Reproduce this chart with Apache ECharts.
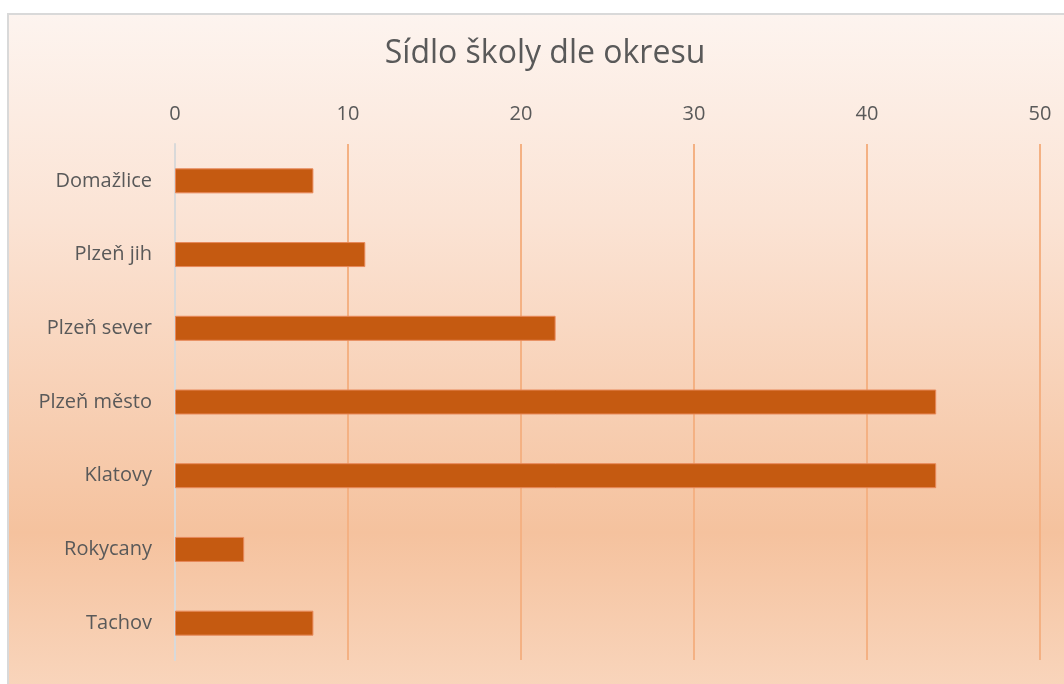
<!DOCTYPE html>
<html>
<head>
<meta charset="utf-8">
<script src="https://cdn.jsdelivr.net/npm/echarts@6/dist/echarts.min.js"></script>
<style>
  html, body { margin: 0; padding: 0; background: #ffffff; }
  #bg {
    position: absolute; left: 7px; top: 13px; width: 1070px; height: 690px;
    border-left: 2px solid #d9d9d9; border-top: 2px solid #d9d9d9;
    background: linear-gradient(to bottom, #fdf4ef 0%, #fbe3d4 30%, #f7cdb0 60%, #f5c29e 75%, #f9d7bf 100%);
  }
  #chart { position: absolute; left: 0; top: 0; width: 1064px; height: 684px; }
</style>
</head>
<body>
<div id="bg"></div>
<div id="chart"></div>
<script>
var nadpis = 'Sídlo školy dle okresu';
var okresy = ['Domažlice', 'Plzeň jih', 'Plzeň sever', 'Plzeň město', 'Klatovy', 'Rokycany', 'Tachov'];
var pocty = [8, 11, 22, 44, 44, 4, 8];

var font = '"Open Sans", sans-serif';
var chart = echarts.init(document.getElementById('chart'));

chart.setOption({
    backgroundColor: 'transparent',
    title: {
        text: nadpis,
        left: 540,
        textAlign: 'center',
        top: 33,
        textStyle: { fontFamily: font, fontSize: 32, fontWeight: 'normal', color: '#595959' }
    },
    grid: { left: 175, right: 24, top: 144, bottom: 24 },
    xAxis: {
        type: 'value',
        position: 'top',
        min: 0,
        max: 50,
        interval: 10,
        axisLine: { show: false },
        axisTick: { show: false },
        axisLabel: { fontFamily: font, fontSize: 20, color: '#595959', margin: 20 },
        splitLine: { lineStyle: { color: '#f4b183', width: 2 } }
    },
    yAxis: {
        type: 'category',
        inverse: true,
        data: okresy,
        axisLine: { lineStyle: { color: '#d9d9d9', width: 2 } },
        axisTick: { show: false },
        axisLabel: { fontFamily: font, fontSize: 20, color: '#595959', margin: 23 }
    },
    series: [{
        type: 'bar',
        data: pocty,
        barWidth: 25,
        itemStyle: { color: '#c55a11', borderColor: '#e8895a', borderWidth: 1 },
        silent: true
    }],
    animation: false
});
</script>
</body>
</html>
